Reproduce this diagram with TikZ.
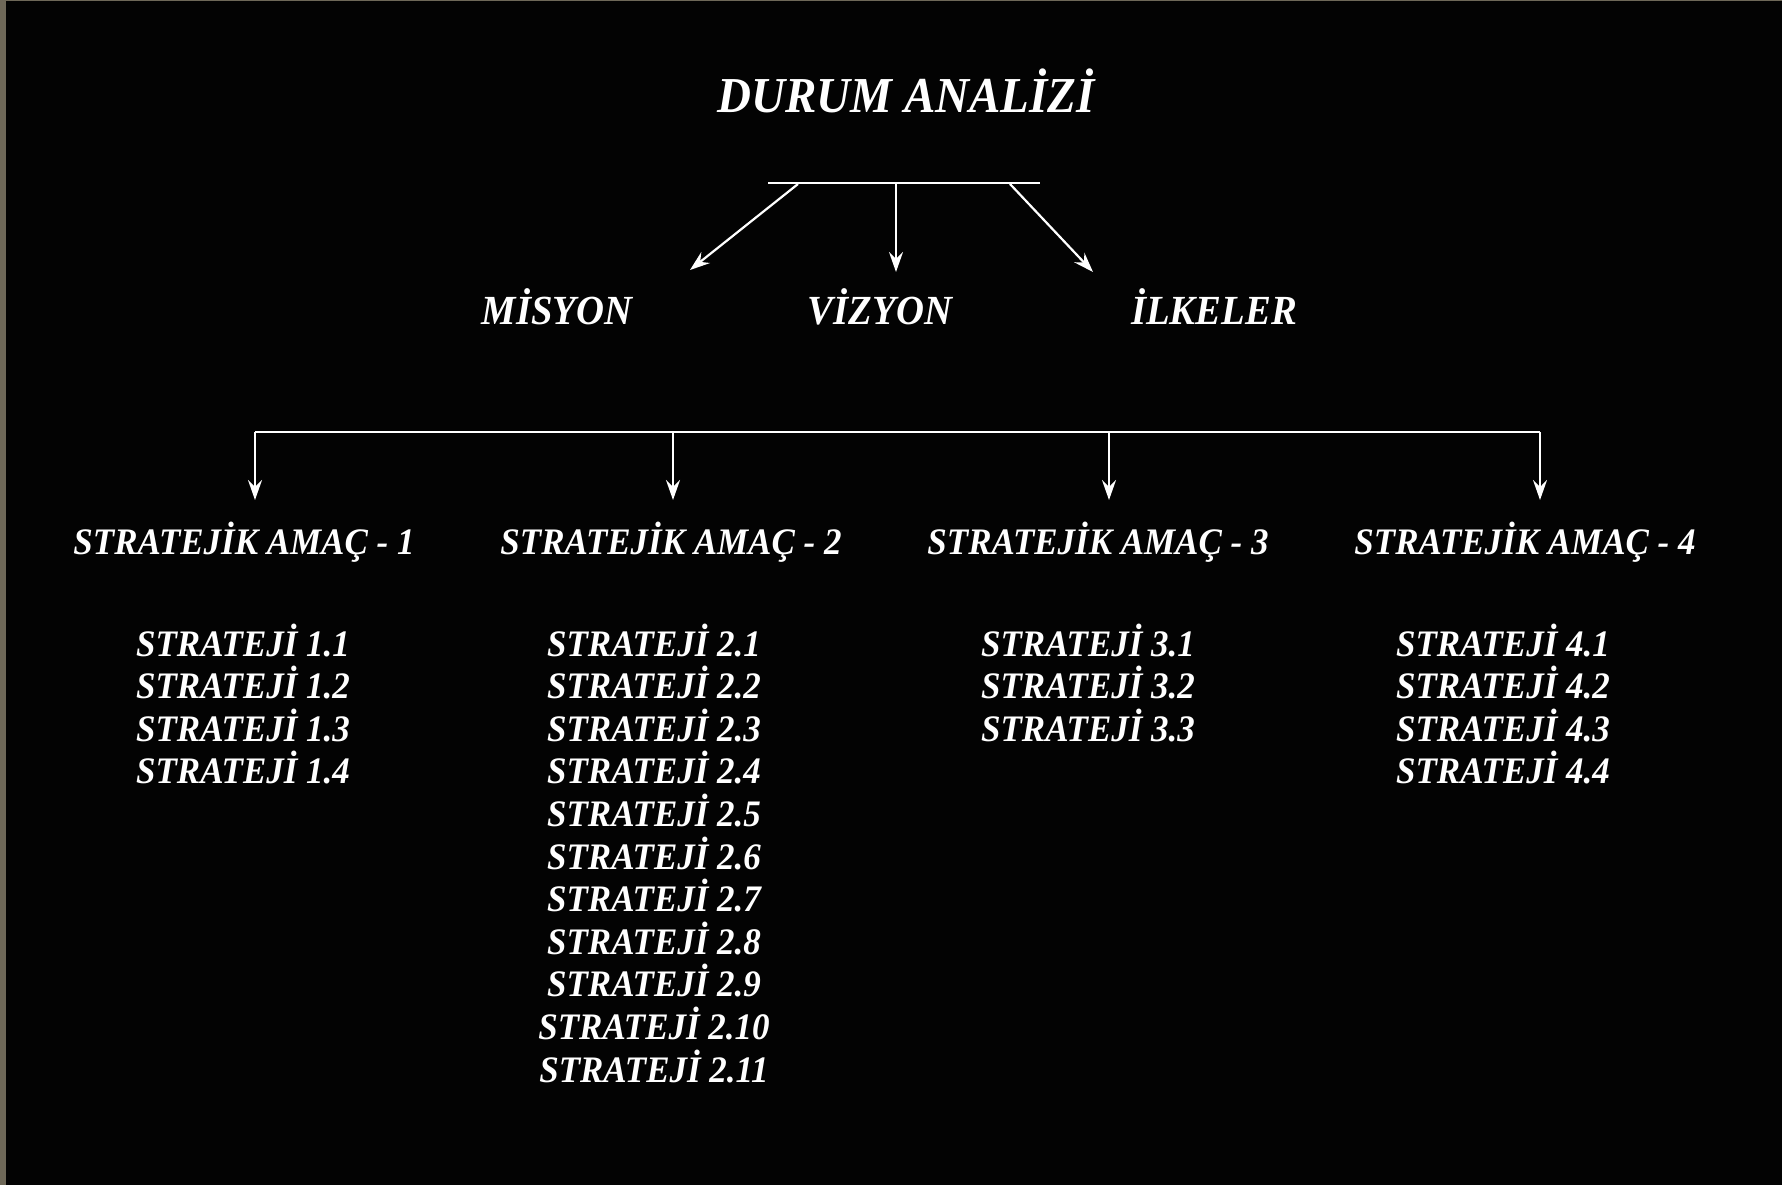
\documentclass[tikz,border=0pt]{standalone}
\usepackage{fontspec}
\setmainfont{Liberation Serif}
\newfontfamily\condfont[FakeStretch=0.935]{Liberation Serif}
\usetikzlibrary{arrows.meta}
\definecolor{bgc}{HTML}{030303}
\definecolor{framec}{HTML}{6E6858}
\tikzset{
  txt/.style={text=white, inner sep=0pt, outer sep=0pt, anchor=base},
  titletxt/.style={txt, font=\condfont\fontsize{50.3}{56}\selectfont\bfseries\itshape},
  midtxt/.style={txt, font=\condfont\fontsize{41.4}{46}\selectfont\bfseries\itshape},
  lowtxt/.style={txt, font=\condfont\fontsize{37.4}{42}\selectfont\bfseries\itshape},
  wline/.style={draw=white, line width=2.2pt},
  conn/.style={wline, -{Stealth[length=20pt,width=14pt,inset=7pt]}}
}
\begin{document}
\begin{tikzpicture}[x=1pt,y=-1pt]
\fill[framec] (0,0) rectangle (1782,1185);
\fill[bgc] (6,1) rectangle (1782,1185);
\useasboundingbox (0,0) rectangle (1782,1185);

% title and first level
\node[titletxt] (title) at (906,113) {DURUM ANALİZİ};
\node[midtxt] (misyon) at (557,324) {MİSYON};
\node[midtxt] (vizyon) at (880,324) {VİZYON};
\node[midtxt] (ilkeler) at (1214,324) {İLKELER};

\coordinate (barL) at (768,183);
\coordinate (barR) at (1040,183);
\coordinate (a1s) at (798,184);
\coordinate (a1e) at (690,270);
\coordinate (a2s) at (896,184);
\coordinate (a2e) at (896,272);
\coordinate (a3s) at (1010,184);
\coordinate (a3e) at (1093,272);
\draw[wline] (barL) -- (barR);
\draw[conn] (a1s) -- (a1e);
\draw[conn] (a2s) -- (a2e);
\draw[conn] (a3s) -- (a3e);

% second bar
\coordinate (b1) at (255,432);
\coordinate (b2) at (673,432);
\coordinate (b3) at (1109,432);
\coordinate (b4) at (1540,432);
\coordinate (t1) at (255,500);
\coordinate (t2) at (673,500);
\coordinate (t3) at (1109,500);
\coordinate (t4) at (1540,500);
\draw[wline] (b1) -- (b4);
\foreach \k in {1,...,4}{\draw[conn] (b\k) -- (t\k);}

\node[lowtxt] (am1) at (244,554) {STRATEJİK AMAÇ - 1};
\node[lowtxt] (am2) at (671,554) {STRATEJİK AMAÇ - 2};
\node[lowtxt] (am3) at (1098,554) {STRATEJİK AMAÇ - 3};
\node[lowtxt] (am4) at (1525,554) {STRATEJİK AMAÇ - 4};

% strategies
\foreach \i in {1,...,4}{\node[lowtxt] (s1\i) at (243,656+42.6*\i-42.6) {STRATEJİ 1.\i};}
\foreach \i in {1,...,11}{\node[lowtxt] (s2\i) at (654,656+42.6*\i-42.6) {STRATEJİ 2.\i};}
\foreach \i in {1,...,3}{\node[lowtxt] (s3\i) at (1088,656+42.6*\i-42.6) {STRATEJİ 3.\i};}
\foreach \i in {1,...,4}{\node[lowtxt] (s4\i) at (1503,656+42.6*\i-42.6) {STRATEJİ 4.\i};}
\end{tikzpicture}
\end{document}
